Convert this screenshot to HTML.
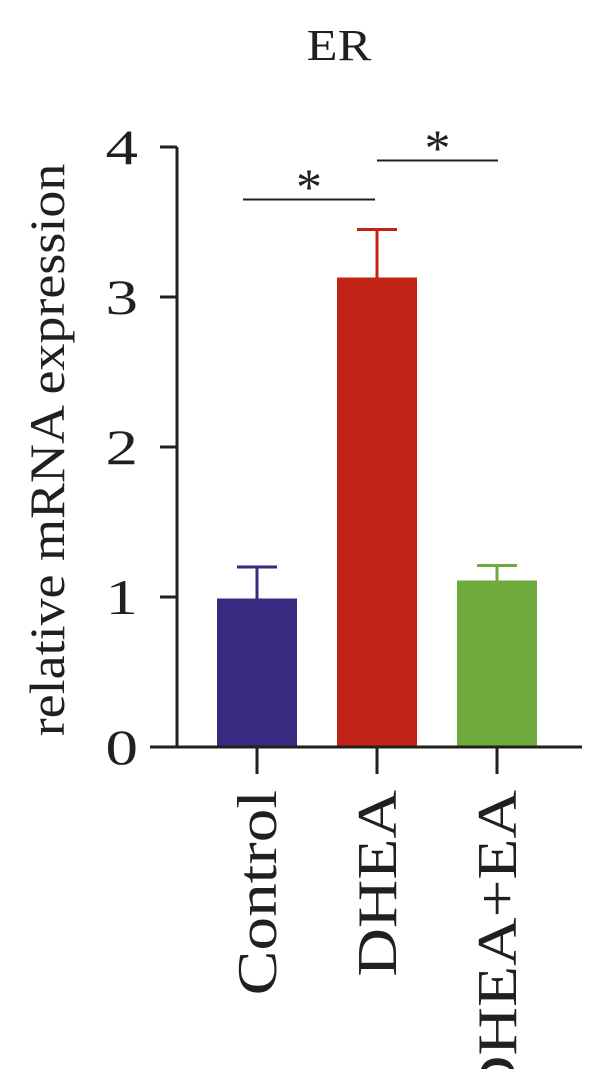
<!DOCTYPE html>
<html><head><meta charset="utf-8"><style>
body{margin:0;background:#fff}
svg text{font-family:"Liberation Serif",serif;fill:#231f20}
</style></head><body>
<svg width="600" height="1069" viewBox="0 0 600 1069" xmlns="http://www.w3.org/2000/svg">
<text transform="translate(339,60) scale(1.15,1)" font-size="44" text-anchor="middle">ER</text>
<text transform="translate(64,450) rotate(-90) scale(1.08,1)" font-size="50" text-anchor="middle">relative mRNA expression</text>
<g id="plot"></g>
</svg>
<script>
const categories=["Control","DHEA","DHEA+EA"];
const values=[0.99,3.13,1.11];
const errors=[0.21,0.32,0.10];
const colors=["#372a80","#c32316","#6eaa3c"];
const yTicks=[0,1,2,3,4];
const sigPairs=[[0,1],[1,2]];
const sigLevels=[3.65,3.91];
const NS="http://www.w3.org/2000/svg";
const g=document.getElementById("plot");
const y=v=>747-v*150;
const xc=i=>257+i*120;
function el(t,a){const e=document.createElementNS(NS,t);for(const k in a)e.setAttribute(k,a[k]);g.appendChild(e);return e;}
values.forEach((v,i)=>{
 const ey=y(v+errors[i]);
 const l=el("line",{x1:xc(i),x2:xc(i),y1:y(v),y2:ey,stroke:colors[i],"stroke-width":3});
 
 
 const c=el("line",{x1:xc(i)-20,x2:xc(i)+20,y1:ey,y2:ey,stroke:colors[i],"stroke-width":3});
 
 
 const r=el("rect",{x:xc(i)-40,y:y(v),width:80,height:y(0)-y(v),fill:colors[i]});
 
 
 const t=el("line",{x1:xc(i),x2:xc(i),y1:747,y2:774,stroke:"#231f20","stroke-width":3});
 
 
 const lb=el("text",{transform:`translate(${xc(i)+19},790) rotate(-90) scale(1.2,1)`,"font-size":56,"text-anchor":"end"});
 lb.textContent=categories[i];
 
 
});
const ya=el("line",{x1:177,x2:177,y1:y(4),y2:748,stroke:"#231f20","stroke-width":3});


const xa=el("line",{x1:150,x2:582,y1:747,y2:747,stroke:"#231f20","stroke-width":3});


yTicks.forEach(v=>{
 const t=el("line",{x1:160,x2:177,y1:y(v),y2:y(v),stroke:"#231f20","stroke-width":3});
 
 
 const lb=el("text",{transform:`translate(138,${y(v)+17}) scale(1.3,1)`,"font-size":50,"text-anchor":"end"});
 lb.textContent=v;
 
 
});
sigPairs.forEach((p,k)=>{
 const ly=y(sigLevels[k]);
 const x1=k===0?xc(p[0])-14:xc(p[0]);
 const x2=k===0?xc(p[1])-2:xc(p[1])+1;
 const l=el("line",{x1:x1,x2:x2,y1:ly,y2:ly,stroke:"#231f20","stroke-width":2});
 
 
 const s=el("text",{x:(x1+x2)/2,y:ly+5,"font-size":52,"text-anchor":"middle"});
 s.textContent="*";
 
 
});
</script>
</body></html>
